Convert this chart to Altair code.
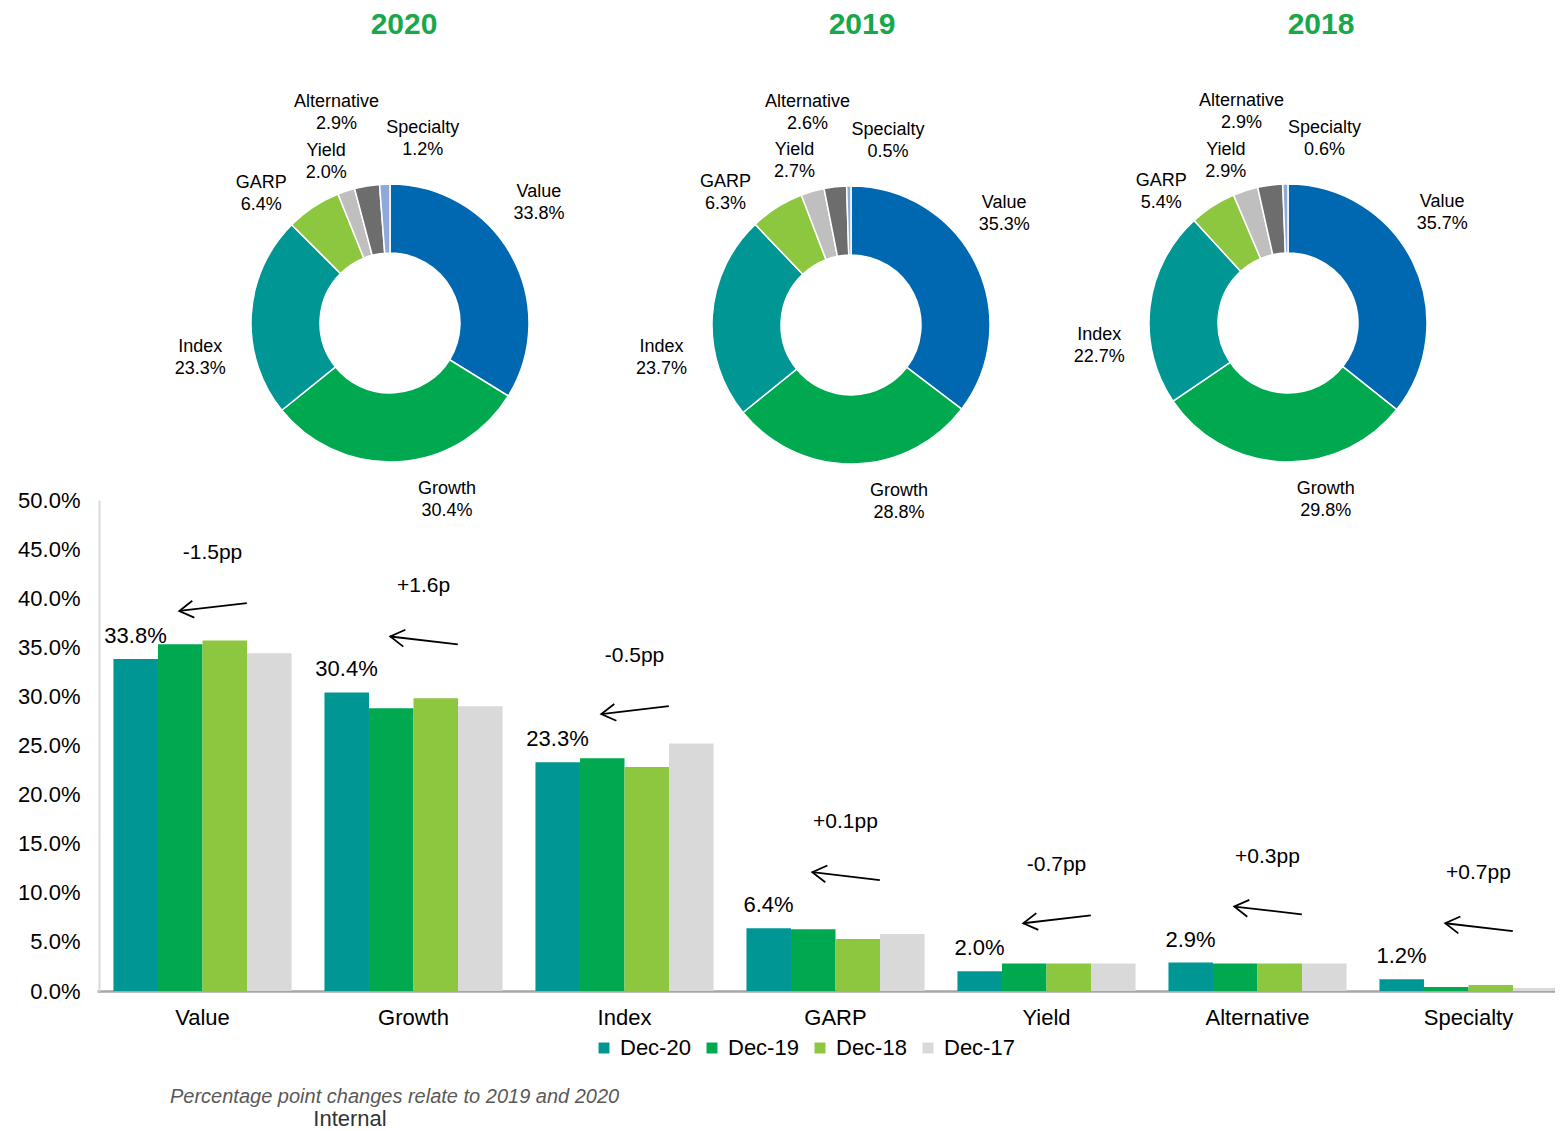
import altair as alt
import pandas as pd

# ---------------- data ----------------
categories = ["Value", "Growth", "Index", "GARP", "Yield", "Alternative", "Specialty"]
series = ["Dec-20", "Dec-19", "Dec-18", "Dec-17"]

dec20 = [33.8, 30.4, 23.3, 6.4, 2.0, 2.9, 1.2]
dec19 = [35.3, 28.8, 23.7, 6.3, 2.8, 2.8, 0.4]
dec18 = [35.7, 29.8, 22.8, 5.3, 2.8, 2.8, 0.6]
dec17 = [34.4, 29.0, 25.2, 5.8, 2.8, 2.8, 0.3]

pp_labels = ["-1.5pp", "+1.6p", "-0.5pp", "+0.1pp", "-0.7pp", "+0.3pp", "+0.7pp"]
pp_changes = [-1.5, 1.6, -0.5, 0.1, -0.7, 0.3, 0.7]

years = ["2020", "2019", "2018"]
donut_2020 = [33.8, 30.4, 23.3, 6.4, 2.0, 2.9, 1.2]
donut_2019 = [35.3, 28.8, 23.7, 6.3, 2.7, 2.6, 0.5]
donut_2018 = [35.7, 29.8, 22.7, 5.4, 2.9, 2.9, 0.6]

y_ticks = [0, 5, 10, 15, 20, 25, 30, 35, 40, 45, 50]

footnote = "Percentage point changes relate to 2019 and 2020"
internal = "Internal"

# ---------------- style ----------------
FONT = "Liberation Sans"
GREEN = "#18A84A"
cat_colors = ["#0068B1", "#00A94F", "#009694", "#8DC63F", "#BFBFBF", "#6D6D6D", "#8EAADB"]
series_colors = ["#009694", "#00A94F", "#8DC63F", "#D9D9D9"]

# label nudges (dx, dy) for the donut labels, per category
label_nudge = {
    "Value": (-17, -27), "Growth": (45, -13), "Index": (0, 45), "GARP": (-24, 29),
    "Yield": (-4, 19), "Alternative": (-22, -23), "Specialty": (40, 6),
}

PAD_L, PAD_T = 91, 492
VW, VH = 1456, 491
TOTAL_H = 1123
PAD_B = TOTAL_H - PAD_T - VH
XR = [-2, 1475]

yscale = alt.Scale(domain=[0, 50], range=[VH, 0])
color_scale = alt.Scale(domain=categories + series, range=cat_colors + series_colors)
band_scale = alt.Scale(domain=categories, range=XR, paddingInner=0.156, paddingOuter=0.078)
off_scale = alt.Scale(domain=series, paddingInner=0, paddingOuter=0)

y_axis = alt.Axis(title=None, values=y_ticks,
                  labelExpr="format(datum.value, '.1f') + '%'",
                  labelFontSize=22, labelColor="#000", labelPadding=19,
                  ticks=False, grid=False, domainColor="#D9D9D9", domainWidth=2,
                  labelFont=FONT)

bars_df = pd.DataFrame(
    [{"cat": c, "series": s, "val": v}
     for s, vals in zip(series, [dec20, dec19, dec18, dec17])
     for c, v in zip(categories, vals)]
)
notes_df = pd.DataFrame({"cat": categories, "idx": list(range(len(categories))),
                         "v20": dec20, "lab": pp_labels, "chg": pp_changes})

layers = []

# ---------------- bar chart ----------------
bars = alt.Chart(bars_df).mark_bar().encode(
    x=alt.X("cat:N", sort=categories, scale=band_scale,
            axis=alt.Axis(title=None, labelFontSize=22, labelColor="#000", labelPadding=16,
                          ticks=False, domainColor="#A6A6A6", domainWidth=2.5,
                          labelAngle=0, labelFont=FONT)),
    xOffset=alt.XOffset("series:N", sort=series, scale=off_scale),
    y=alt.Y("val:Q", scale=yscale, axis=y_axis),
    color=alt.Color("series:N", scale=color_scale,
                    legend=alt.Legend(values=series, orient="none", legendX=494, legendY=537,
                                      direction="horizontal", columns=4, title=None,
                                      symbolType="square", symbolSize=120, symbolStrokeWidth=0,
                                      labelFontSize=22, labelColor="#000", labelFont=FONT,
                                      columnPadding=10, labelOffset=5, padding=0)),
)
layers.append(bars)

bar_labels = alt.Chart(bars_df).transform_filter(
    alt.datum.series == "Dec-20"
).transform_calculate(
    lab="format(datum.val, '.1f') + '%'"
).mark_text(dx=-67, dy=-23, fontSize=22, color="#000").encode(
    x=alt.X("cat:N", sort=categories, scale=band_scale, axis=None),
    y=alt.Y("val:Q", scale=yscale, axis=y_axis),
    text="lab:N",
)
layers.append(bar_labels)

notes = alt.Chart(notes_df).mark_text(dy=-106, dx=10, fontSize=21, color="#000").encode(
    x=alt.X("cat:N", sort=categories, scale=band_scale, axis=None),
    y=alt.Y("v20:Q", scale=yscale, axis=y_axis),
    text="lab:N",
)
layers.append(notes)

# ---------------- arrows ----------------
arrow_base = alt.Chart(notes_df).transform_calculate(
    s="datum.chg > 0 ? 1 : -1",
    mid="datum.v20 + 5.3",
).transform_calculate(
    tx="datum.idx + 0.71",
    hx="datum.idx + 0.39",
    ty="datum.mid - 0.4 * datum.s",
    hy="datum.mid + 0.4 * datum.s",
    ang="datum.s > 0 ? 7 : 353",
)
qx = alt.Scale(domain=[0, 7], range=XR)
layers.append(arrow_base.mark_rule(color="#000", strokeWidth=1.8).encode(
    x=alt.X("tx:Q", scale=qx, axis=None),
    x2="hx:Q",
    y=alt.Y("ty:Q", scale=yscale, axis=y_axis),
    y2="hy:Q",
))
layers.append(arrow_base.mark_point(
    shape="M 1 -0.6 L 0 0 L 1 0.6", filled=False, size=800,
    strokeWidth=1.8, color="#000", opacity=1,
).encode(
    x=alt.X("hx:Q", scale=qx, axis=None),
    y=alt.Y("hy:Q", scale=yscale, axis=y_axis),
    angle=alt.Angle("ang:Q", scale=None),
))


# ---------------- donuts ----------------
def donut(year, vals, cx, cy, tx):
    out = []
    df = pd.DataFrame({"cat": categories, "val": vals, "ord": list(range(len(categories)))})
    base = alt.Chart(df).transform_calculate(
        lab="datum.cat + '\\n' + format(datum.val, '.1f') + '%'"
    )
    theta = alt.Theta("val:Q", stack=True)
    order = alt.Order("ord:Q")
    out.append(base.mark_arc(x=cx, y=cy, outerRadius=139, innerRadius=70,
                             stroke="white", strokeWidth=1.5).encode(
        theta=theta, order=order,
        color=alt.Color("cat:N", scale=color_scale, legend=None),
    ))
    for c in categories:
        ndx, ndy = label_nudge[c]
        out.append(base.transform_calculate(
            t=f"datum.cat == '{c}' ? datum.lab : ''"
        ).mark_text(x=cx, y=cy, radius=190, dx=ndx, dy=ndy - 11, lineBreak="\n",
                    fontSize=18, lineHeight=22, color="#000").encode(
            theta=theta, order=order, text="t:N"))
    out.append(alt.Chart(pd.DataFrame({"year": [year]})).mark_text(
        x=tx, y=17 - PAD_T, fontSize=30, fontWeight="bold", color=GREEN
    ).encode(text="year:N"))
    return out


layers += donut(years[0], donut_2020, 382 - PAD_L, 315 - PAD_T, 396 - PAD_L)
layers += donut(years[1], donut_2019, 843 - PAD_L, 317 - PAD_T, 854 - PAD_L)
layers += donut(years[2], donut_2018, 1280 - PAD_L, 315 - PAD_T, 1313 - PAD_L)

# ---------------- footer ----------------
layers.append(alt.Chart(pd.DataFrame({"t": [footnote]})).mark_text(
    x=162 - PAD_L, y=1089 - PAD_T, align="left", fontSize=20, fontStyle="italic", color="#595959"
).encode(text="t:N"))
layers.append(alt.Chart(pd.DataFrame({"t": [internal]})).mark_text(
    x=342 - PAD_L, y=1111 - PAD_T, fontSize=22, color="#333333"
).encode(text="t:N"))

chart = alt.layer(*layers).resolve_scale(
    x="independent", theta="independent"
).properties(
    width=VW, height=VH, autosize=alt.AutoSizeParams(type="none"),
    padding={"left": PAD_L, "top": PAD_T, "right": 0, "bottom": PAD_B},
).configure(
    font=FONT
).configure_view(
    stroke=None
)

chart.save("out.html", embed_options={"renderer": "svg", "actions": False})
